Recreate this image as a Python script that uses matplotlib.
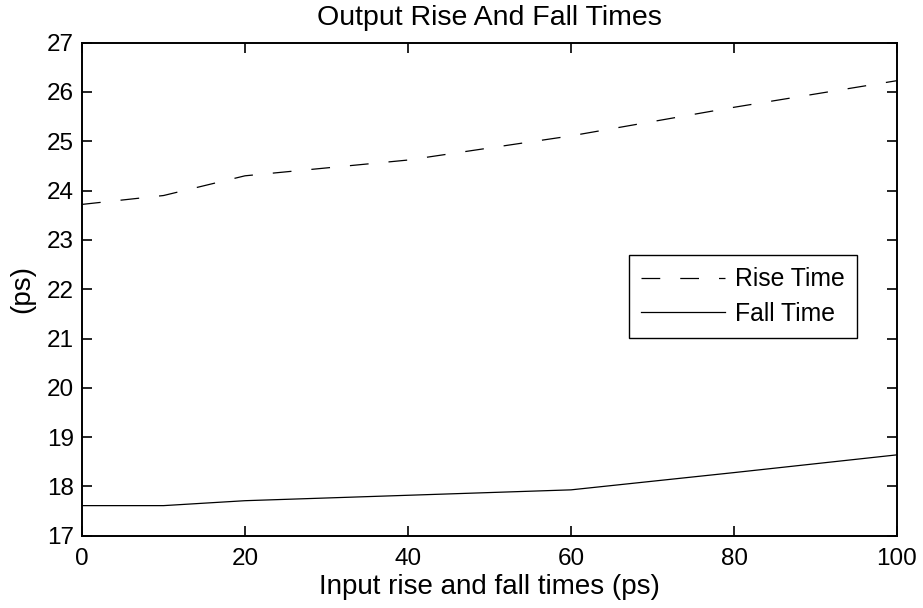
import matplotlib
matplotlib.use("Agg")
import matplotlib.pyplot as plt

plt.rcParams['font.family'] = ['Liberation Sans', 'DejaVu Sans']

input_times = [0, 10, 20, 40, 60, 80, 100]
rise_time = [23.72, 23.9, 24.3, 24.62, 25.11, 25.69, 26.23]
fall_time = [17.61, 17.61, 17.71, 17.82, 17.93, 18.28, 18.64]

x_ticks = [0, 20, 40, 60, 80, 100]
y_ticks = [17, 18, 19, 20, 21, 22, 23, 24, 25, 26, 27]

fig = plt.figure(figsize=(9.23, 6.08), dpi=100)
ax = fig.add_axes([82/923, 1 - 535.7/608, 815/923, 493/608])

ax.plot(input_times, rise_time, color='black', linewidth=0.9,
        linestyle=(0, (15, 16)), label='Rise Time')
ax.plot(input_times, fall_time, color='black', linewidth=0.9,
        linestyle='-', label='Fall Time')

ax.set_xlim(0, 100)
ax.set_ylim(17, 27)
ax.set_xticks(x_ticks)
ax.set_yticks(y_ticks)
ax.tick_params(direction='in', length=7, width=1.2, top=True, right=True,
               labelsize=17.5)
ax.tick_params(axis='x', pad=9)
ax.tick_params(axis='y', pad=6)
for s in ax.spines.values():
    s.set_linewidth(1.4)

ax.set_title('Output Rise And Fall Times', fontsize=20.5, pad=13)
ax.set_xlabel('Input rise and fall times (ps)', fontsize=20, labelpad=3)
ax.set_ylabel('(ps)', fontsize=20, labelpad=8)

leg = ax.legend(loc='upper right', bbox_to_anchor=((857-82)/815, (535.7-255)/493),
                borderaxespad=0, fancybox=False, edgecolor='black', framealpha=1,
                fontsize=17.8, handlelength=3.4, handletextpad=0.4,
                labelspacing=0.42, borderpad=0.5)
leg.get_frame().set_linewidth(1.0)

fig.savefig('out.png', dpi=100)
